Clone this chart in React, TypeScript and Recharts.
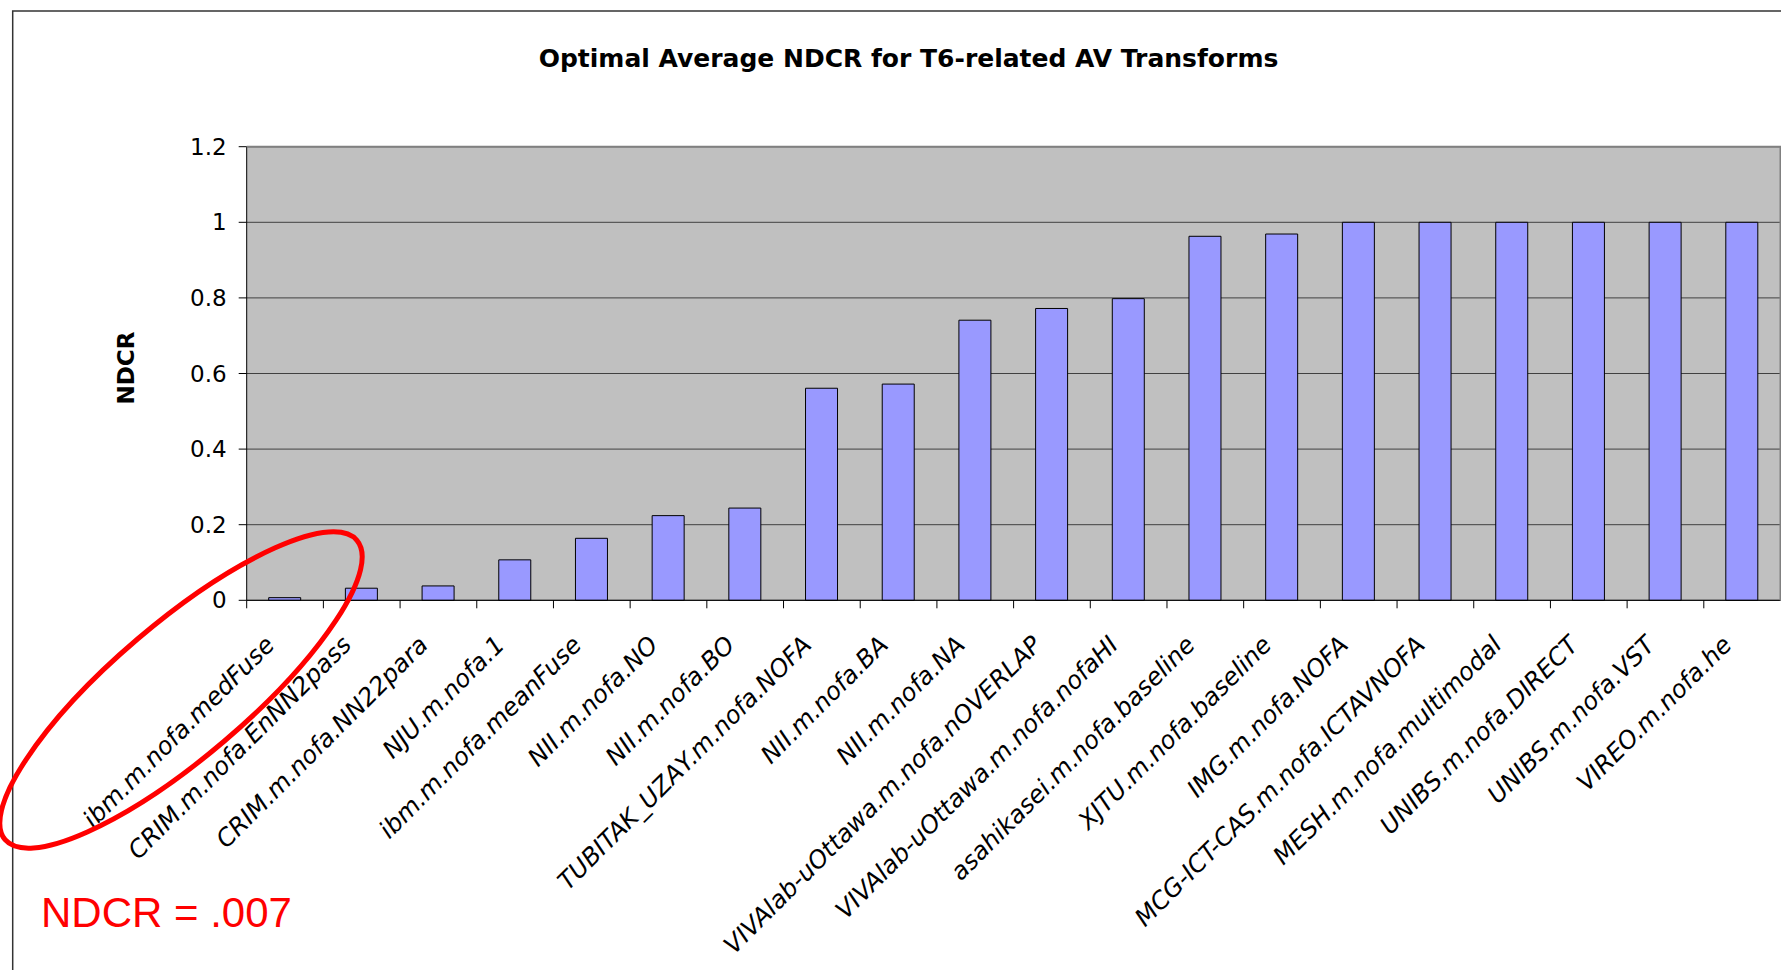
import React from 'react';
import { BarChart, Bar, XAxis, YAxis, CartesianGrid } from 'recharts';

// runs, sorted by score
const RUNS = [
    'ibm.m.nofa.medFuse',
    'CRIM.m.nofa.EnNN2pass',
    'CRIM.m.nofa.NN22para',
    'NJU.m.nofa.1',
    'ibm.m.nofa.meanFuse',
    'NII.m.nofa.NO',
    'NII.m.nofa.BO',
    'TUBITAK_UZAY.m.nofa.NOFA',
    'NII.m.nofa.BA',
    'NII.m.nofa.NA',
    'VIVAlab-uOttawa.m.nofa.nOVERLAP',
    'VIVAlab-uOttawa.m.nofa.nofaHI',
    'asahikasei.m.nofa.baseline',
    'XJTU.m.nofa.baseline',
    'IMG.m.nofa.NOFA',
    'MCG-ICT-CAS.m.nofa.ICTAVNOFA',
    'MESH.m.nofa.multimodal',
    'UNIBS.m.nofa.DIRECT',
    'UNIBS.m.nofa.VST',
    'VIREO.m.nofa.he',
];

const NDCR = [
    0.007, 0.032, 0.038, 0.107, 0.164, 0.224, 0.244, 0.561, 0.572, 0.741,
    0.772, 0.798, 0.963, 0.969, 1.0, 1.0, 1.0, 1.0, 1.0, 1.0,
];

const Y_TICKS = [0, 0.2, 0.4, 0.6, 0.8, 1, 1.2];

const TITLE = 'Optimal Average NDCR for T6-related AV Transforms';
const NOTE = 'NDCR = .007';

const data = RUNS.map((name, i) => ({ name, ndcr: NDCR[i] }));

const W = 1781;
const H = 970;
const PLOT = { left: 246.7, top: 146.7, right: 1780.5, bottom: 600.3 };
const Y_AXIS_W = 100;
const X_AXIS_H = 300;
const BAND = (PLOT.right - PLOT.left) / RUNS.length;

const FONT = '"DejaVu Sans", sans-serif';

// boundary tick + slanted run name
const CategoryTick = (props: any) => {
    const { x, y, payload } = props;
    const left = x - BAND / 2;
    const tx = x - 9;
    const ty = y + 46;
    return (
        <g>
            <line x1={left} x2={left} y1={y} y2={y + 8} stroke="#000" strokeWidth={1} />
            <text
                x={tx}
                y={ty}
                transform={`rotate(-45, ${tx}, ${ty})`}
                textAnchor="end"
                fontFamily={FONT}
                fontStyle="italic"
                fontSize={24.5}
                fill="#000"
            >
                {payload.value}
            </text>
        </g>
    );
};

export default function App() {
    return (
        <div style={{ position: 'absolute', left: 0, top: 0, width: W, height: H, overflow: 'hidden', background: '#fff' }}>
            <BarChart
                width={W}
                height={H}
                data={data}
                margin={{
                    top: PLOT.top,
                    right: W - PLOT.right,
                    left: PLOT.left - Y_AXIS_W,
                    bottom: H - PLOT.bottom - X_AXIS_H,
                }}
            >
                <CartesianGrid vertical={false} fill="#C0C0C0" fillOpacity={1} stroke="#404040" strokeWidth={1} />
                <XAxis
                    dataKey="name"
                    interval={0}
                    height={X_AXIS_H}
                    tickSize={0}
                    tickMargin={0}
                    tickLine={false}
                    axisLine={{ stroke: '#000', strokeWidth: 1 }}
                    tick={<CategoryTick />}
                />
                <YAxis
                    width={Y_AXIS_W}
                    domain={[0, 1.2]}
                    ticks={Y_TICKS}
                    interval={0}
                    tickSize={8}
                    tickMargin={12}
                    axisLine={{ stroke: '#000', strokeWidth: 1 }}
                    tickLine={{ stroke: '#000', strokeWidth: 1 }}
                    tick={{ fontFamily: FONT, fontSize: 23, fill: '#000' }}
                />
                <Bar dataKey="ndcr" barSize={32} fill="#9999FF" stroke="#000" strokeWidth={1} isAnimationActive={false} />
            </BarChart>

            <svg width={W} height={H} style={{ position: 'absolute', left: 0, top: 0, pointerEvents: 'none' }}>
                {/* outer chart frame, runs off the right and bottom */}
                <path d={`M12.7,${H + 5} L12.7,11 L${W + 5},11`} fill="none" stroke="#333" strokeWidth={1.5} />
                {/* plot area border, top and right */}
                <path
                    d={`M${PLOT.left},${PLOT.top} L${PLOT.right},${PLOT.top} L${PLOT.right},${PLOT.bottom}`}
                    fill="none"
                    stroke="#808080"
                    strokeWidth={2}
                />
                <text x={908.5} y={66.7} textAnchor="middle" fontFamily={FONT} fontWeight="bold" fontSize={25} fill="#000">
                    {TITLE}
                </text>
                <text
                    x={134.3}
                    y={368}
                    transform="rotate(-90, 134.3, 368)"
                    textAnchor="middle"
                    fontFamily={FONT}
                    fontWeight="bold"
                    fontSize={23}
                    fill="#000"
                >
                    NDCR
                </text>
                {/* callout around the best run */}
                <ellipse
                    cx={181}
                    cy={690}
                    rx={231}
                    ry={67}
                    transform="rotate(-40.4, 181, 690)"
                    fill="none"
                    stroke="#FF0000"
                    strokeWidth={5}
                />
                <text x={41} y={927} fontFamily='"Liberation Sans", Arial, sans-serif' fontSize={42} fill="#FF0000">
                    {NOTE}
                </text>
            </svg>
        </div>
    );
}
